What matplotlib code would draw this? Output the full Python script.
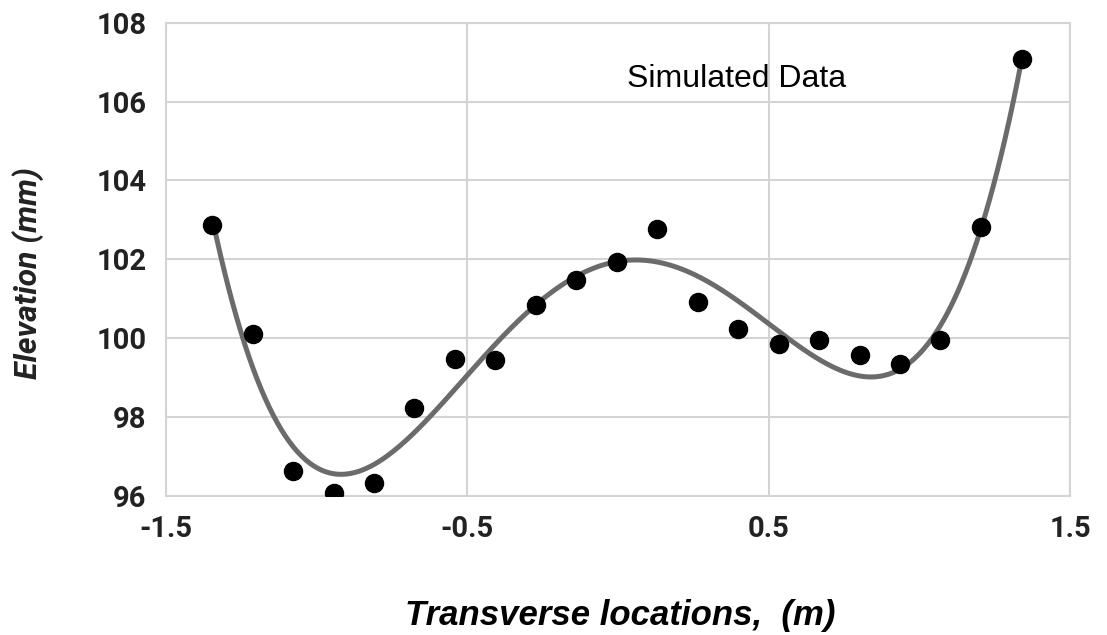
import numpy as np
import matplotlib
matplotlib.use("Agg")
import matplotlib.pyplot as plt

# Data
x_pos = [-1.345, -1.211, -1.077, -0.943, -0.809, -0.675, -0.540, -0.406,
         -0.271, -0.138, -0.003, 0.131, 0.265, 0.399, 0.534, 0.668,
         0.804, 0.936, 1.070, 1.206, 1.340]
elev = [102.86, 100.10, 96.62, 96.08, 96.33, 98.22, 99.48, 99.45,
        100.85, 101.48, 101.92, 102.77, 100.91, 100.24, 99.85, 99.94,
        99.58, 99.33, 99.96, 102.82, 107.07]
x_ticks = [-1.5, -0.5, 0.5, 1.5]
y_ticks = [96, 98, 100, 102, 104, 106, 108]
trend_degree = 4

fig = plt.figure(figsize=(11.07, 6.35), dpi=100)
ax = fig.add_axes([0.1497, 0.2194, 0.9666 - 0.1497, 0.9643 - 0.2194])

grid_c = "#d4d4d4"
ax.set_xlim(-1.5, 1.5)
ax.set_ylim(96, 108)
ax.set_xticks(x_ticks)
ax.set_xticklabels([f"{t:g}" for t in x_ticks])
ax.set_yticks(y_ticks)
ax.grid(True, color=grid_c, linewidth=1.5)
ax.set_axisbelow(True)
for s in ax.spines.values():
    s.set_color(grid_c)
    s.set_linewidth(1.5)
ax.tick_params(length=0, labelsize=21, colors="#222222", pad=14)
for lab in ax.get_xticklabels() + ax.get_yticklabels():
    lab.set_fontfamily("Roboto")
    lab.set_fontweight("bold")

# polynomial trendline from the data
coef = np.polyfit(x_pos, elev, trend_degree)
xs = np.linspace(min(x_pos), max(x_pos), 400)
ax.plot(xs, np.polyval(coef, xs), color="#6b6b6b", linewidth=3.6,
        solid_capstyle="round", zorder=2)
ax.plot(x_pos, elev, "o", color="black", markersize=13, zorder=3)

ax.text(0.395, 106.37, "Simulated Data", ha="center", va="baseline",
        fontsize=23, family="Liberation Sans", color="black")

fig.text(0.025, (1 - 273.5 / 635), "Elevation (mm)", rotation=90,
         ha="center", va="center", fontsize=23, family="Roboto",
         style="italic", fontweight="bold", color="#222222")
fig.text(620 / 1107, 1 - 625 / 635, "Transverse locations,  (m)",
         ha="center", va="baseline", fontsize=25, family="Liberation Sans",
         style="italic", fontweight="bold", color="black")

fig.savefig("out.png", dpi=100)
